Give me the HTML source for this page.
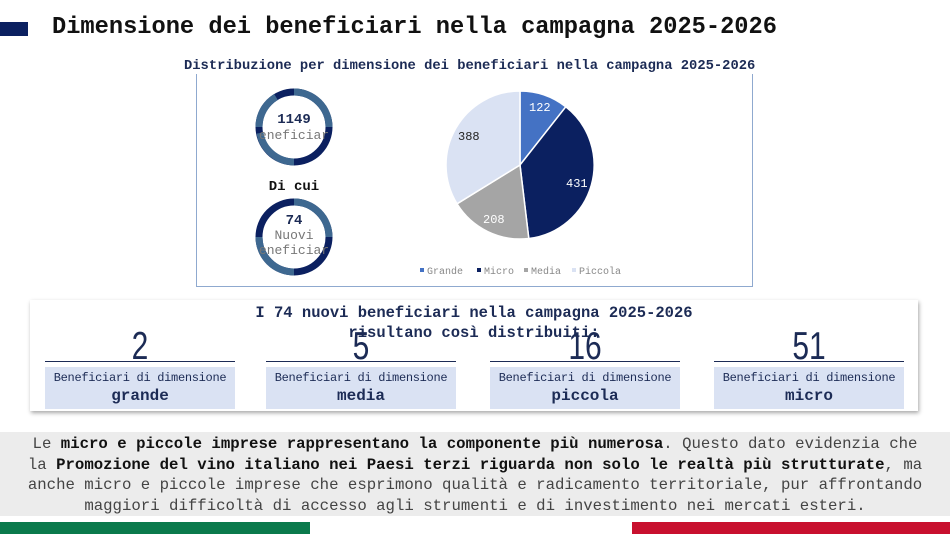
<!DOCTYPE html>
<html><head><meta charset="utf-8"><style>
body{margin:0;width:950px;height:534px;background:#fff;position:relative;overflow:hidden;font-family:"Liberation Mono",monospace;}
.a{position:absolute}
.t{font-weight:bold}
.card{position:absolute;top:367px;width:190px;height:42px;background:#dae2f3;text-align:center;color:#1c2b55}
.card .s{font-size:12px;margin-top:4px;letter-spacing:-0.3px}
.card .b{font-size:16px;font-weight:bold;margin-top:2px}
.num{position:absolute;top:324px;width:190px;text-align:center;color:#1c2b55;border-bottom:1px solid #1c2b55;height:37px;}
.num span{display:inline-block;font-size:30px;line-height:30px;transform:scaleY(1.3);transform-origin:center top;font-family:"Liberation Sans Narrow","Liberation Sans",sans-serif;margin-top:4px}
</style></head><body>
<div class="a" style="left:0;top:22px;width:28px;height:14px;background:#0b2060"></div>
<div class="a t" style="left:52px;top:14px;font-size:23.7px;color:#111">Dimensione dei beneficiari nella campagna 2025-2026</div>
<div class="a" style="left:196px;top:68px;width:555px;height:217px;border:1px solid #8fa9cf"></div>
<div class="a t" style="left:184px;top:59px;font-size:13.8px;color:#1c2b55;background:#fff">Distribuzione per dimensione dei beneficiari nella campagna 2025-2026</div>
<svg class="a" style="left:0;top:0" width="950" height="300">
<g fill="none" stroke-width="7">
<circle cx="294" cy="127" r="35" stroke="#0b2060"/>
<path d="M294 92 A35 35 0 0 1 329 127" stroke="#3e6890"/>
<path d="M259 127 A35 35 0 0 1 276 97" stroke="#3e6890"/>
<path d="M294 162 A35 35 0 0 1 260 133" stroke="#3e6890"/>
<circle cx="294" cy="237" r="35" stroke="#0b2060"/>
<path d="M294 202 A35 35 0 0 1 329 237" stroke="#3e6890"/>
<path d="M294 272 A35 35 0 0 1 259 237" stroke="#3e6890"/>
</g>
<g stroke="#fff" stroke-width="1.5">
<path d="M520 165 L520 91 A74 74 0 0 1 565.8 106.8Z" fill="#4472c4"/>
<path d="M520 165 L565.8 106.8 A74 74 0 0 1 528.8 238.5Z" fill="#0b2060"/>
<path d="M520 165 L528.8 238.5 A74 74 0 0 1 457 203.8Z" fill="#a5a5a5"/>
<path d="M520 165 L457 203.8 A74 74 0 0 1 520 91Z" fill="#dae2f3"/>
</g>
<g font-family="Liberation Mono,monospace" font-size="12">
<text x="529" y="111" fill="#fff">122</text>
<text x="566" y="187" fill="#fff">431</text>
<text x="483" y="223" fill="#fff">208</text>
<text x="458" y="140" fill="#222">388</text>
<text x="294" y="123" text-anchor="middle" font-weight="bold" font-size="14" fill="#1c2b55">1149</text>
<text x="294" y="139" text-anchor="middle" font-size="13" fill="#777">eneficiar</text>
<text x="294" y="190" text-anchor="middle" font-weight="bold" font-size="14" fill="#111">Di cui</text>
<text x="294" y="224" text-anchor="middle" font-weight="bold" font-size="14" fill="#1c2b55">74</text>
<text x="294" y="239" text-anchor="middle" font-size="13" fill="#777">Nuovi</text>
<text x="294" y="254" text-anchor="middle" font-size="13" fill="#777">eneficiar</text>
<g font-size="10" fill="#888">
<rect x="420" y="268" width="4" height="4" fill="#4472c4"/><text x="427" y="274">Grande</text>
<rect x="477" y="268" width="4" height="4" fill="#0b2060"/><text x="484" y="274">Micro</text>
<rect x="524" y="268" width="4" height="4" fill="#a5a5a5"/><text x="531" y="274">Media</text>
<rect x="572" y="268" width="4" height="4" fill="#dae2f3"/><text x="579" y="274">Piccola</text>
</g></g>
</svg>
<div class="a" style="left:30px;top:300px;width:888px;height:111px;background:#fff;box-shadow:1px 2px 4px rgba(0,0,0,.35)"></div>
<div class="num" style="left:45px"><span>2</span></div><div class="num" style="left:266px"><span>5</span></div><div class="num" style="left:490px"><span>16</span></div><div class="num" style="left:714px"><span>51</span></div>
<div class="a t" style="left:30px;top:303px;width:888px;text-align:center;font-size:15.5px;line-height:20px;color:#1c2b55">I 74 nuovi beneficiari nella campagna 2025-2026<br>risultano così distribuiti:</div>
<div class="card" style="left:45px"><div class="s">Beneficiari di dimensione</div><div class="b">grande</div></div>
<div class="card" style="left:266px"><div class="s">Beneficiari di dimensione</div><div class="b">media</div></div>
<div class="card" style="left:490px"><div class="s">Beneficiari di dimensione</div><div class="b">piccola</div></div>
<div class="card" style="left:714px"><div class="s">Beneficiari di dimensione</div><div class="b">micro</div></div>
<div class="a" style="left:0;top:432px;width:950px;height:84px;background:#ececec"></div>
<div class="a" style="left:0;top:434px;width:950px;text-align:center;font-size:15.7px;line-height:20.5px;color:#444">Le <b style="color:#111">micro e piccole imprese rappresentano la componente più numerosa</b>. Questo dato evidenzia che<br>la <b style="color:#111">Promozione del vino italiano nei Paesi terzi riguarda non solo le realtà più strutturate</b>, ma<br>anche micro e piccole imprese che esprimono qualità e radicamento territoriale, pur affrontando<br>maggiori difficoltà di accesso agli strumenti e di investimento nei mercati esteri.</div>
<div class="a" style="left:0;top:522px;width:310px;height:12px;background:#0a7a4c"></div>
<div class="a" style="left:632px;top:522px;width:318px;height:12px;background:#c8102e"></div>
</body></html>
